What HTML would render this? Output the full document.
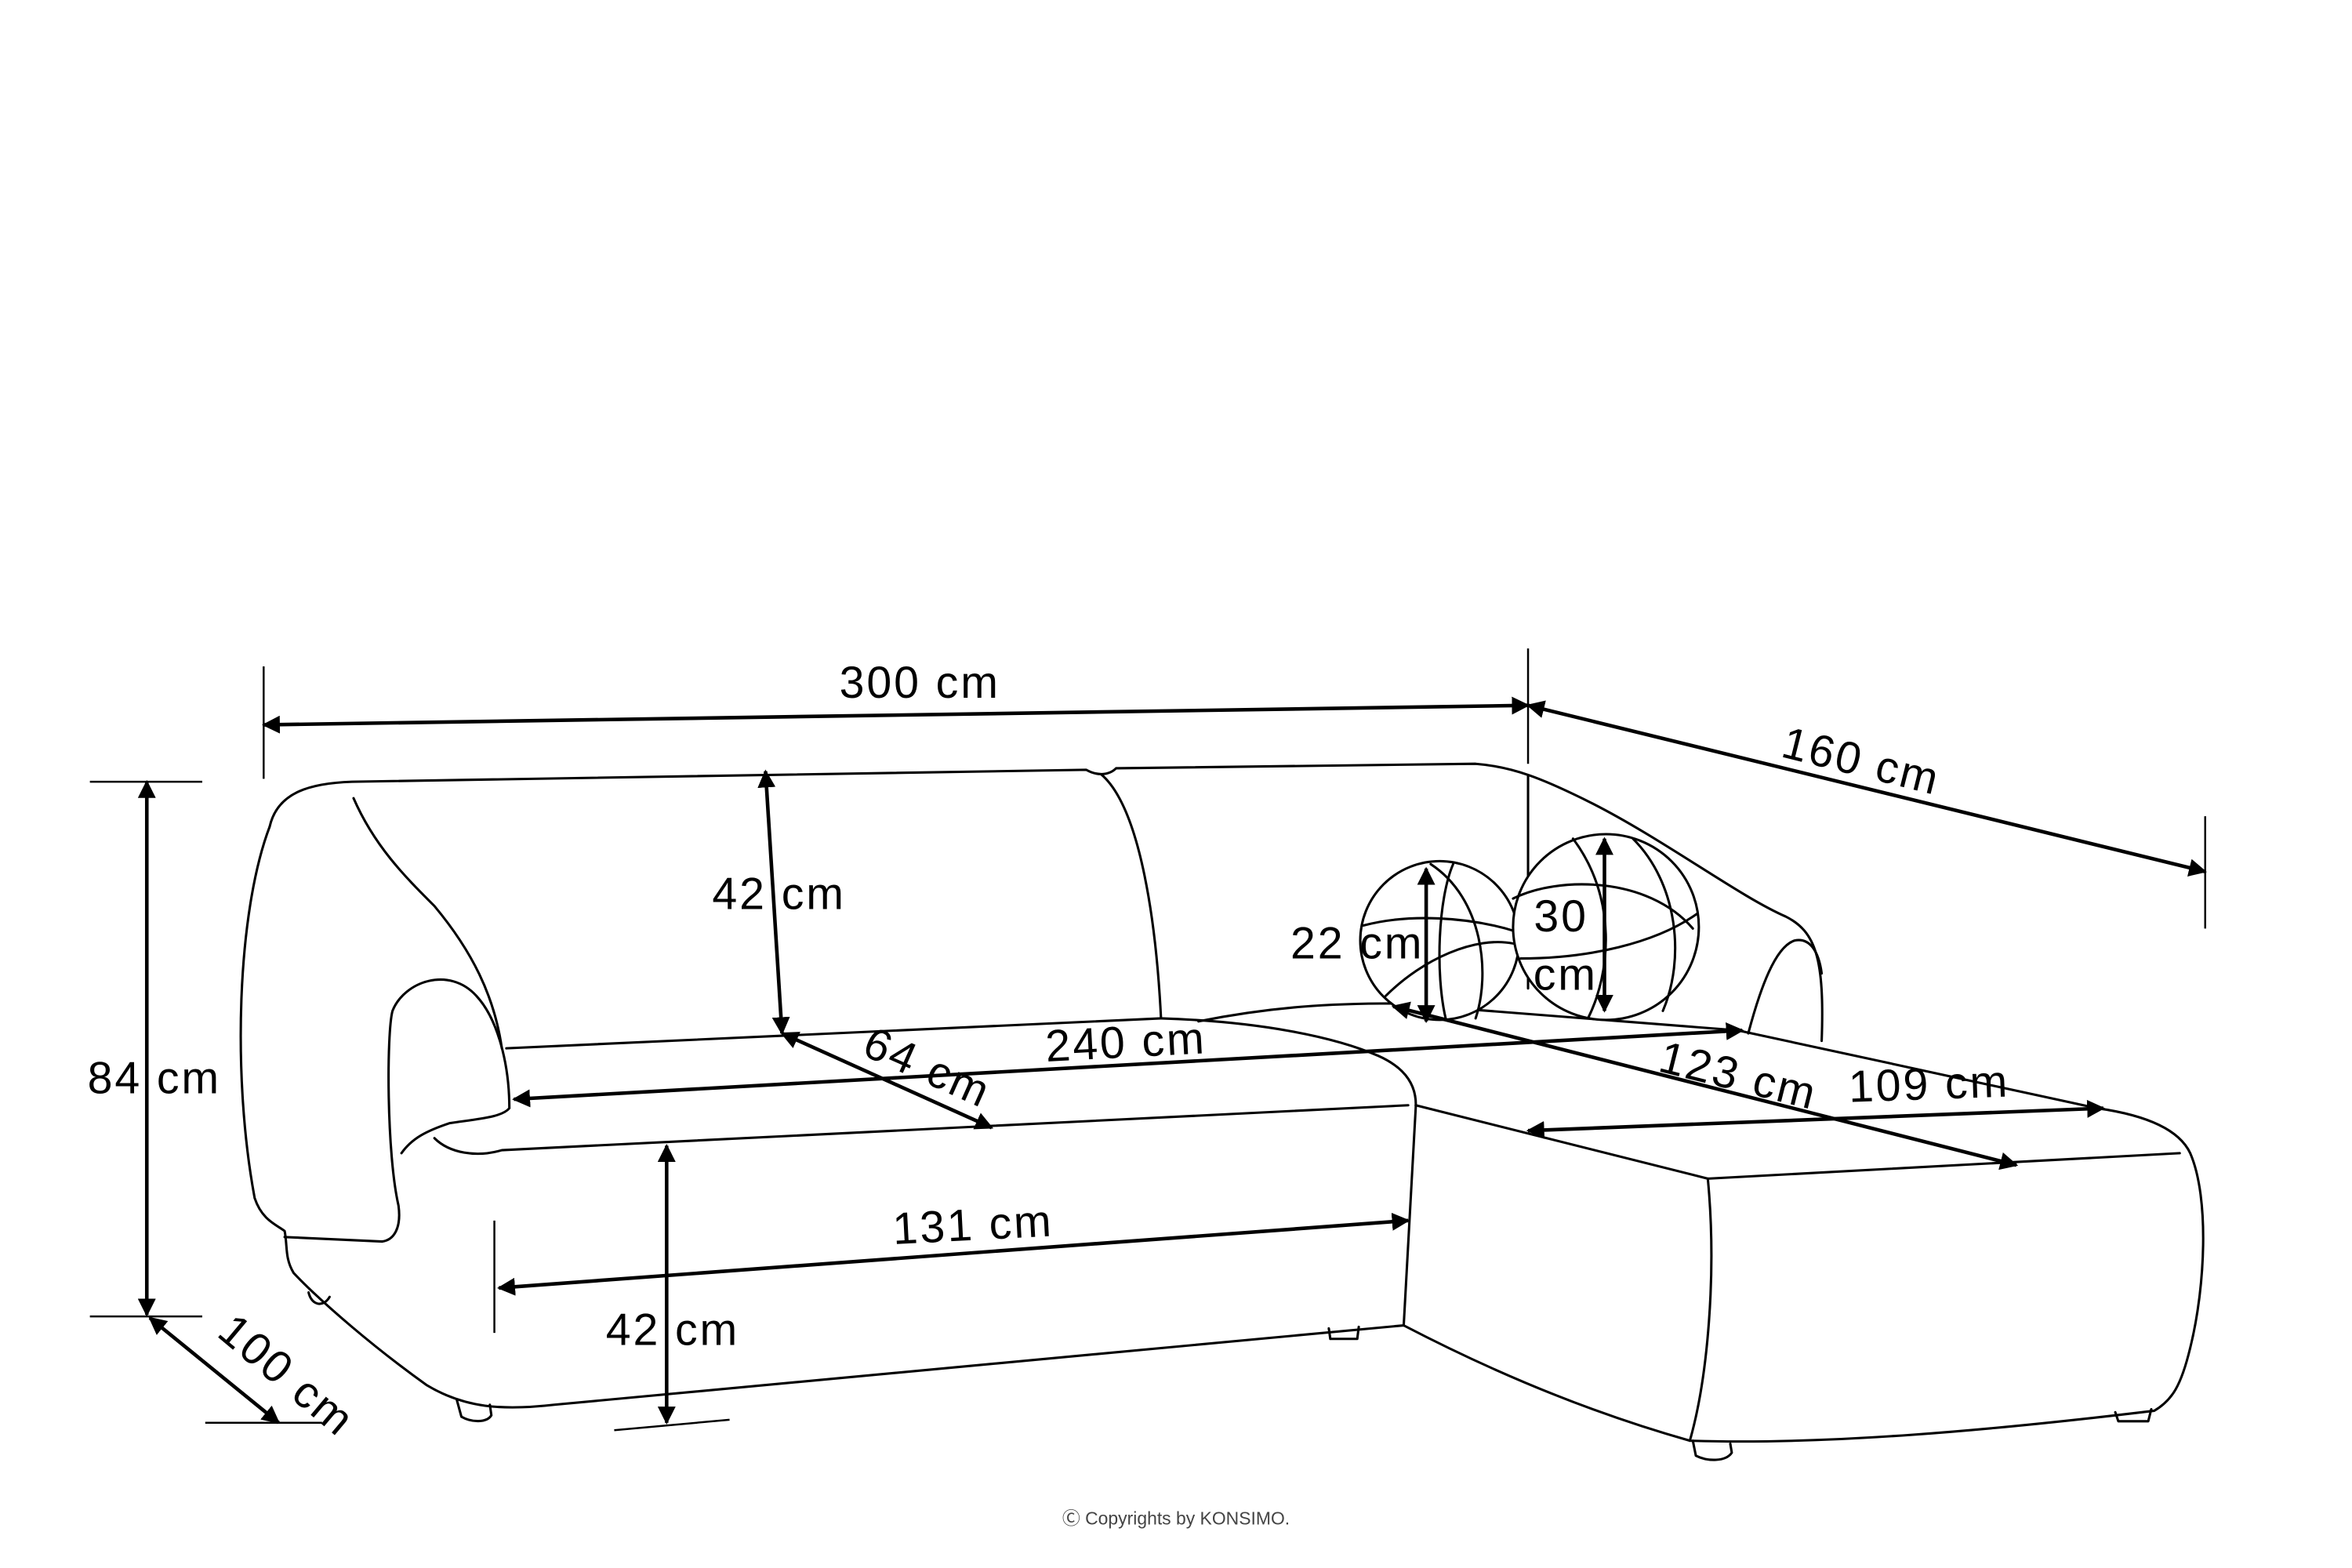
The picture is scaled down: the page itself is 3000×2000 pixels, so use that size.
<!DOCTYPE html>
<html><head><meta charset="utf-8"><style>
html,body{margin:0;padding:0;background:#fff;}
svg{display:block;}
text{font-family:"Liberation Sans",sans-serif;font-size:30px;fill:#000;letter-spacing:1.5px;}
</style></head><body>
<svg width="3000" height="2000" viewBox="0 0 1570 1047" preserveAspectRatio="none" xmlns="http://www.w3.org/2000/svg">
<defs>
<marker id="a" viewBox="0 0 10 10" refX="9" refY="5" markerWidth="5" markerHeight="5" orient="auto-start-reverse" markerUnits="strokeWidth">
<path d="M0,0 L10,5 L0,10 Z" fill="#000"/></marker>
</defs>
<rect width="1570" height="1047" fill="#fff"/>
<g fill="none" stroke="#000" stroke-width="1.6" stroke-linejoin="round" stroke-linecap="round">
<path d="M180,552 C185,530 205,523 235,522 L725,514 C732,518 740,518 745,513 L985,510 C1010,512 1030,520 1060,535 C1110,560 1160,598 1192,612 C1212,622 1218,640 1216,695"/>
<path d="M180,552 C158,610 155,720 170,800 C175,815 185,818 190,822 C192,832 190,840 196,850 C215,870 250,900 285,925 C310,940 335,942 370,938 L937,885"/>
<path d="M190,826 L255,829"/>
<path d="M236,533 C250,565 270,585 290,605 C315,635 330,665 335,700"/>
<path d="M255,829 C263,828 268,820 266,805 C258,770 258,690 262,675 C270,655 300,645 318,665 C332,680 340,710 340,740 C335,746 320,747 300,750 C285,755 275,760 268,770"/>
<path d="M290,760 C300,770 318,773 335,768 L940,738"/>
<path d="M338,700 L775,680"/>
<path d="M735,517 C762,540 772,620 775,680"/>
<path d="M775,680 C840,682 890,692 920,705 C938,713 946,725 945,740 L937,885"/>
<path d="M800,682 C850,672 890,670 930,670 L1160,688"/>
<path d="M945,738 L1140,787 L1455,770"/>
<path d="M1160,688 L1400,740 C1435,745 1455,755 1462,770 C1475,800 1472,860 1462,900 C1456,925 1450,935 1438,942 C1330,955 1220,965 1128,962 C1050,940 985,910 937,885"/>
<path d="M1140,787 C1146,850 1140,920 1128,962"/>
<path d="M1167,690 C1175,660 1185,632 1198,628 C1208,626 1214,635 1216,650"/>
<path d="M1020,518 L1020,660"/>
<path d="M206,863 C208,872 216,873 220,866"/>
<path d="M305,935 L308,946 C315,950 325,950 328,945 L327,938"/>
<path d="M887,887 L888,894 L906,894 L907,886"/>
<path d="M1130,962 L1132,972 C1140,976 1152,976 1156,970 L1155,964"/>
<path d="M1412,943 L1414,949 L1434,949 L1436,941"/>
<circle cx="961" cy="628" r="53" fill="#fff"/>
<path d="M910,618 C940,610 980,612 1012,622"/>
<path d="M925,665 C950,640 985,625 1010,630"/>
<path d="M955,577 C990,600 995,650 985,680"/>
<path d="M970,577 C960,600 958,650 965,680"/>
<circle cx="1072" cy="619" r="62" fill="#fff"/>
<path d="M1015,640 C1060,640 1105,630 1133,610"/>
<path d="M1010,600 C1040,585 1100,585 1130,620"/>
<path d="M1090,560 C1120,590 1125,640 1110,675"/>
<path d="M1050,560 C1080,600 1075,650 1060,680"/>
</g>
<g fill="none" stroke="#000" stroke-width="1.3">
<path d="M176,445 L176,520"/><path d="M1020,433 L1020,510"/><path d="M1472,545 L1472,620"/>
<path d="M60,522 L135,522"/><path d="M60,879 L135,879"/>
<path d="M137,950 L215,950"/>
<path d="M330,815 L330,890"/>
<path d="M410,955 L487,948"/>
</g>
<g stroke="#000" stroke-width="2.4" fill="none" marker-start="url(#a)" marker-end="url(#a)">
<path d="M176,484 L1020,471"/>
<path d="M1020,471 L1472,582"/>
<path d="M98,522 L98,878"/>
<path d="M100,880 L186,950"/>
<path d="M511,515 L522,690"/>
<path d="M522,690 L662,753"/>
<path d="M343,734 L1163,688"/>
<path d="M333,860 L940,815"/>
<path d="M445,765 L445,950"/>
<path d="M952,580 L952,682"/>
<path d="M1071,560 L1071,675"/>
<path d="M930,672 L1346,778"/>
<path d="M1020,755 L1404,740"/>
</g>
<g text-anchor="middle">
<text x="614" y="466">300 cm</text>
<text transform="translate(1240,518) rotate(14)">160 cm</text>
<text x="103" y="730">84 cm</text>
<text transform="translate(185,926) rotate(40)">100 cm</text>
<text x="520" y="607">42 cm</text>
<text transform="translate(615,722) rotate(24)">64 cm</text>
<text transform="translate(752,706) rotate(-3)">240 cm</text>
<text transform="translate(650,828) rotate(-3)">131 cm</text>
<text x="449" y="898">42 cm</text>
<text x="906" y="640">22 cm</text>
<text x="1042" y="622">30</text>
<text x="1045" y="661">cm</text>
<text transform="translate(1158,728) rotate(14)">123 cm</text>
<text transform="translate(1288,734) rotate(-2)">109 cm</text>
<text x="785" y="1018" style="font-size:12px;letter-spacing:0;fill:#444">Ⓒ Copyrights by KONSIMO.</text>
</g>
</svg>
</body></html>
